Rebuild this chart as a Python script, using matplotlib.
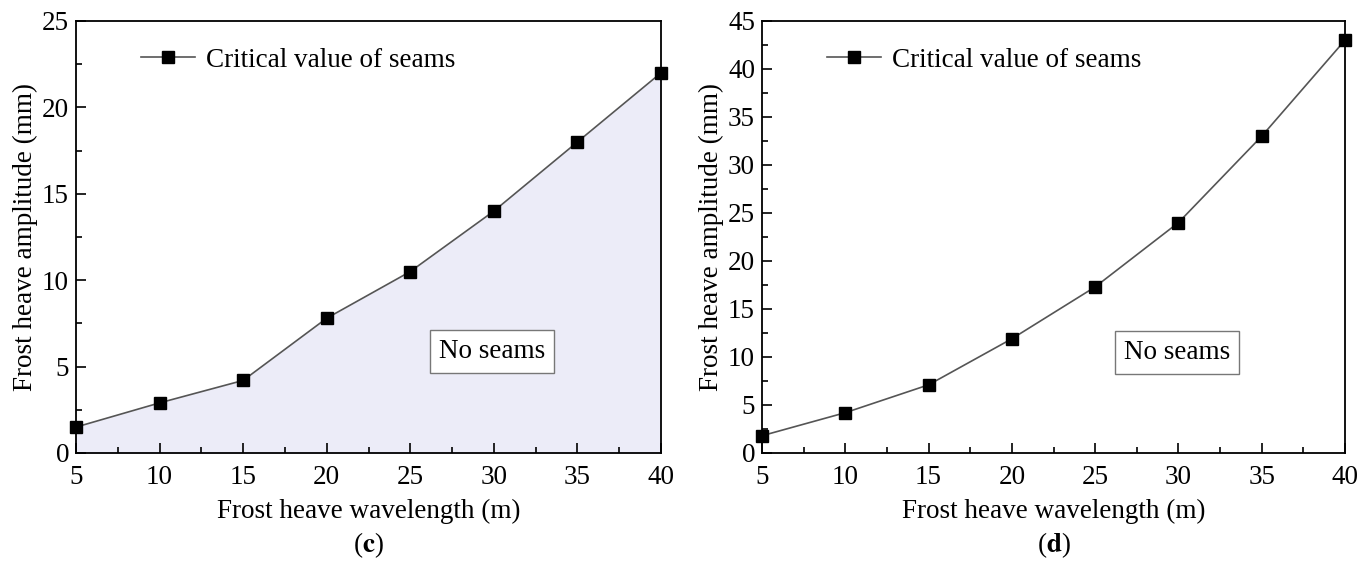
import matplotlib.pyplot as plt
import numpy as np

plt.rcParams['font.family'] = ['Liberation Serif', 'DejaVu Serif']
plt.rcParams['mathtext.fontset'] = 'stix'

wavelength = [5, 10, 15, 20, 25, 30, 35, 40]
amp_c = [1.5, 2.9, 4.2, 7.8, 10.5, 14.0, 18.0, 22.0]
amp_d = [1.8, 4.2, 7.1, 11.9, 17.3, 24.0, 33.0, 43.0]

fig = plt.figure(figsize=(13.72, 5.61), dpi=100)
ax1 = fig.add_axes([76 / 1372, 1 - 453 / 561, 585 / 1372, 432 / 561])
ax2 = fig.add_axes([762 / 1372, 1 - 453 / 561, 583 / 1372, 432 / 561])

fs = 19.5


def style(ax, ymax, ystep):
    ax.set_xlim(5, 40)
    ax.set_ylim(0, ymax)
    ax.set_xticks(np.arange(5, 41, 5))
    ax.set_xticks(np.arange(5, 40.1, 2.5), minor=True)
    ax.set_yticks(np.arange(0, ymax + 0.1, ystep))
    ax.set_yticks(np.arange(0, ymax + 0.1, ystep / 2), minor=True)
    ax.tick_params(which='both', direction='in', labelsize=fs, width=1.2)
    ax.tick_params(which='major', length=7, pad=5)
    ax.tick_params(axis='x', which='major', pad=9)
    ax.tick_params(which='minor', length=4)
    for s in ax.spines.values():
        s.set_linewidth(1.3)
    ax.set_xlabel('Frost heave wavelength (m)', fontsize=fs, labelpad=6)
    ax.set_ylabel('Frost heave amplitude (mm)', fontsize=fs, labelpad=3)


# (c)
ax1.fill_between(wavelength, amp_c, 0, color='#ececf8', lw=0)
ax1.plot(wavelength, amp_c, color='#555555', lw=1.2, marker='s', ms=8,
         mfc='black', mec='black', label='Critical value of seams', clip_on=False, zorder=3)
style(ax1, 25, 5)
ax1.legend(loc='upper left', bbox_to_anchor=(0.07, 0.995), frameon=False, fontsize=fs,
           handlelength=2.0, handletextpad=0.4)
ax1.text(29.9, 5.85, 'No seams', fontsize=fs, ha='center', va='center',
         bbox=dict(boxstyle='square,pad=0.33', fc='white', ec='#777777', lw=1))
fig.text((76 + 661) / 2 / 1372, 1 - 545 / 561, '(' + r'$\mathbf{c}$' + ')', fontsize=fs,
         ha='center', va='center')

# (d)
ax2.plot(wavelength, amp_d, color='#555555', lw=1.2, marker='s', ms=8,
         mfc='black', mec='black', label='Critical value of seams', clip_on=False, zorder=3)
style(ax2, 45, 5)
ax2.legend(loc='upper left', bbox_to_anchor=(0.07, 0.995), frameon=False, fontsize=fs,
           handlelength=2.0, handletextpad=0.4)
ax2.text(29.9, 10.5, 'No seams', fontsize=fs, ha='center', va='center',
         bbox=dict(boxstyle='square,pad=0.33', fc='white', ec='#777777', lw=1))
fig.text((762 + 1345) / 2 / 1372, 1 - 545 / 561, '(' + r'$\mathbf{d}$' + ')', fontsize=fs,
         ha='center', va='center')

fig.savefig('out.png', dpi=100)
